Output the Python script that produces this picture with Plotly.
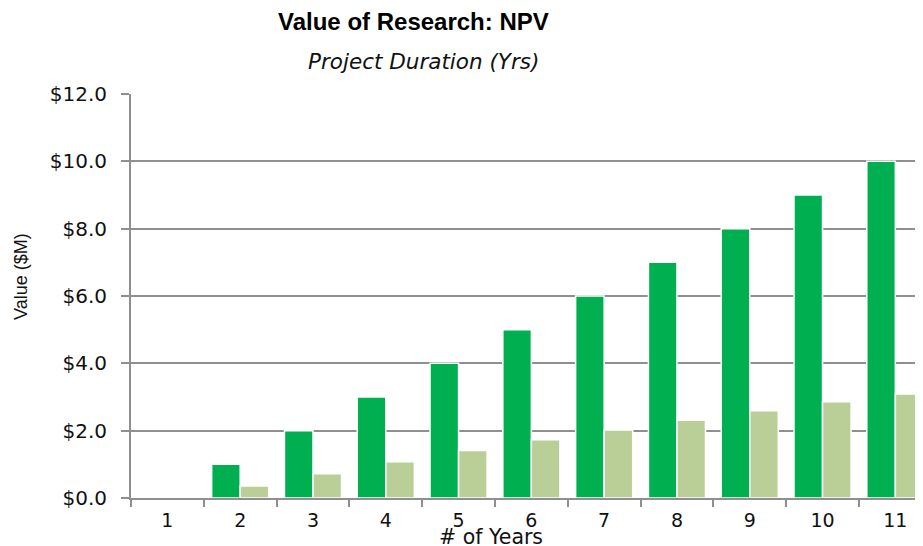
import plotly.graph_objects as go

years = ["1", "2", "3", "4", "5", "6", "7", "8", "9", "10", "11"]
value_high = [0, 1, 2, 3, 4, 5, 6, 7, 8, 9, 10]
value_low = [0, 0.36, 0.72, 1.08, 1.41, 1.73, 2.02, 2.31, 2.59, 2.86, 3.09]
y_ticks = [0, 2, 4, 6, 8, 10, 12]
y_tick_labels = ["$0.0", "$2.0", "$4.0", "$6.0", "$8.0", "$10.0", "$12.0"]

DARK = "#00B050"
LIGHT = "#BACF98"
GRID = "#8f8f8f"

# page has an 8px body margin; figure sized to fit the 923x546 window
OFF = 8
W, H = 923 - OFF, 546 - OFF
L, T, B = 131 - OFF, 94 - OFF, 48
PW, PH = W - L, H - T - B


def px(x):
    return (x - OFF - L) / PW


def py(y):
    return 1 - (y - OFF - T) / PH


fig = go.Figure()
fig.add_trace(go.Bar(x=years, y=value_high, marker=dict(color=DARK, line=dict(color="white", width=1.5)),
                     name="NPV"))
fig.add_trace(go.Bar(x=years, y=value_low, marker=dict(color=LIGHT, line=dict(color="white", width=1.5)),
                     name="NPV (discounted)"))

fig.update_layout(
    width=W, height=H,
    margin=dict(l=L, r=0, t=T, b=B, autoexpand=False),
    paper_bgcolor="white", plot_bgcolor="white",
    barmode="group", bargap=0.216, bargroupgap=0,
    showlegend=False,
    font=dict(family="DejaVu Sans", size=19, color="#111111"),
    xaxis=dict(
        type="category", range=[-0.5, 10.38], automargin=False,
        showgrid=False, showline=True, linecolor=GRID, linewidth=2,
        ticks="outside", tickson="boundaries", ticklen=7, tickcolor=GRID, tickwidth=1.5,
        ticklabelstandoff=4,
        tickfont=dict(family="DejaVu Sans", size=19, color="#111111"),
    ),
    yaxis=dict(
        range=[0, 12], tickvals=y_ticks, ticktext=y_tick_labels, automargin=False,
        showgrid=True, gridcolor=GRID, gridwidth=1.5,
        showline=True, linecolor=GRID, linewidth=2,
        ticks="outside", ticklen=8, tickcolor=GRID, tickwidth=1.5,
        ticklabelstandoff=10,
        tickfont=dict(family="DejaVu Sans", size=20, color="#111111"),
        zeroline=False,
    ),
    annotations=[
        dict(text="<b>Value of Research: NPV</b>", xref="paper", yref="paper", x=px(413), y=py(21),
             xanchor="center", yanchor="middle", showarrow=False,
             font=dict(family="Liberation Sans", size=24, color="#000000")),
        dict(text="<i>Project Duration (Yrs)</i>", xref="paper", yref="paper", x=px(423), y=py(62),
             xanchor="center", yanchor="middle", showarrow=False,
             font=dict(family="DejaVu Sans", size=21.5, color="#111111")),
        dict(text="# of Years", xref="paper", yref="paper", x=px(491), y=py(523),
             xanchor="center", yanchor="top", showarrow=False,
             font=dict(family="DejaVu Sans", size=20.5, color="#111111")),
        dict(text="Value ($M)", xref="paper", yref="paper", x=px(21), y=py(277),
             xanchor="center", yanchor="middle", textangle=-90, showarrow=False,
             font=dict(family="Liberation Sans", size=18, color="#111111")),
    ],
)

fig.write_html("out.html")
